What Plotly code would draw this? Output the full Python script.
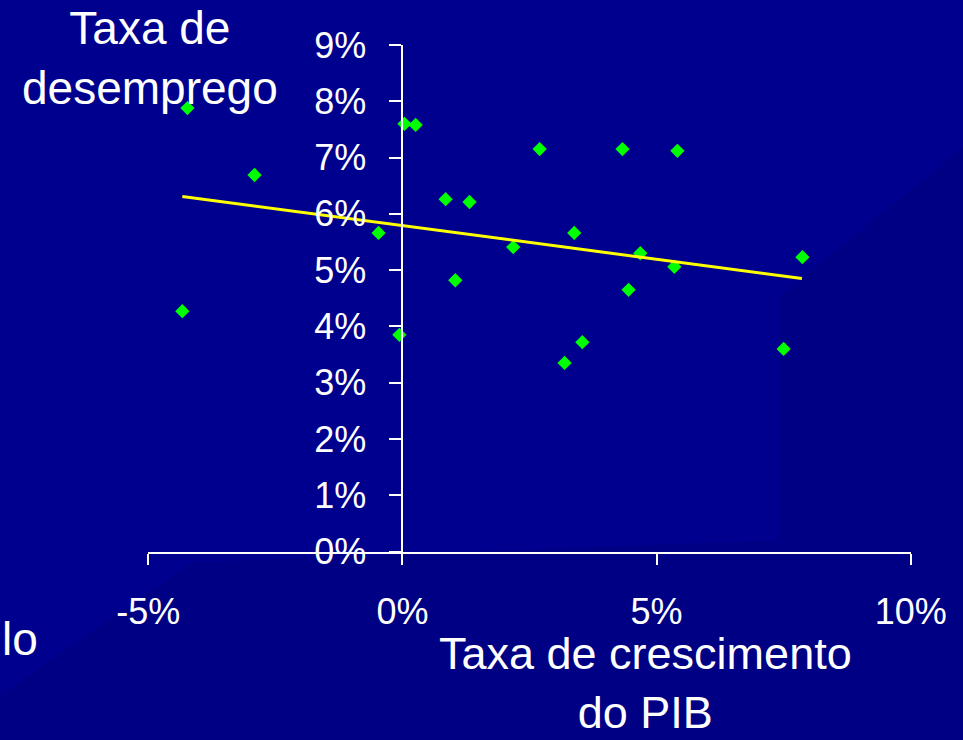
import plotly.graph_objects as go

# ---- data (percent) ----
gdp_growth = [-4.23, -2.91, -4.33, -0.47, -0.06, 0.04, 0.26, 0.85, 1.32, 1.04, 2.18,
              2.70, 3.38, 3.19, 3.54, 4.33, 4.45, 4.68, 5.41, 5.35, 7.50, 7.87]
unemployment = [7.88, 6.69, 4.27, 5.66, 3.85, 7.60, 7.58, 6.26, 6.21, 4.82, 5.41,
                7.15, 5.66, 3.35, 3.72, 7.15, 4.65, 5.30, 7.12, 5.06, 3.60, 5.23]
trend_x = [-4.33, 7.86]
trend_y = [6.31, 4.85]

x_tick_vals = [-5, 0, 5, 10]
x_tick_text = ["-5%", "0%", "5%", "10%"]
y_tick_vals = [0, 1, 2, 3, 4, 5, 6, 7, 8, 9]
y_tick_text = ["0%", "1%", "2%", "3%", "4%", "5%", "6%", "7%", "8%", "9%"]

# ---- layout geometry ----
W, H = 963, 740
x_range = [-5, 10]
y_range = [0, 9]
x_dom = [148.3 / W, 910.7 / W]
y_dom = [(H - 551.5) / H, (H - 45) / H]
y_axis_pos = x_dom[0] + (0 - x_range[0]) / (x_range[1] - x_range[0]) * (x_dom[1] - x_dom[0])

FONT = "Arial, Liberation Sans, sans-serif"

fig = go.Figure()
fig.add_trace(go.Scatter(
    x=gdp_growth, y=unemployment, mode="markers",
    marker=dict(symbol="diamond", size=11, color="#00FF00", line=dict(width=0)),
    showlegend=False, cliponaxis=False,
))
fig.add_trace(go.Scatter(
    x=trend_x, y=trend_y, mode="lines",
    line=dict(color="#FFFF00", width=3),
    showlegend=False,
))

axis_common = dict(
    showline=True, linecolor="white", linewidth=2,
    ticks="outside", tickcolor="white", tickwidth=2,
    showgrid=False, zeroline=False, automargin=False,
    tickfont=dict(family=FONT, size=36, color="white"),
)

fig.update_layout(
    width=W, height=H, autosize=False,
    margin=dict(l=0, r=0, t=0, b=0, pad=0),
    paper_bgcolor="#000084", plot_bgcolor="rgba(0,0,0,0)",
    xaxis=dict(range=x_range, domain=x_dom, anchor="y",
               tickvals=x_tick_vals, ticktext=x_tick_text,
               ticklen=11, ticklabelstandoff=16, **axis_common),
    yaxis=dict(range=y_range, domain=y_dom, anchor="free", position=y_axis_pos,
               side="left", tickvals=y_tick_vals, ticktext=y_tick_text,
               ticklen=12, ticklabelstandoff=16, **axis_common),
    font=dict(family=FONT, color="white"),
)

# faint lighter background region (textured part of the slide background)
fig.add_shape(type="path", xref="paper", yref="paper", layer="below", line=dict(width=0),
              fillcolor="#00008E",
              path="M 0 1 L 1 1 L 1 0.8 L 0.81 0.6 L 0.81 0.27 L 0.2 0.24 L 0 0.06 Z")

annos = [
    dict(text="Taxa de<br>desemprego", x=150 / W, y=1.0, xanchor="center", yanchor="top",
         font=dict(family=FONT, size=46, color="white")),
    dict(text="Taxa de crescimento<br>do PIB", x=645 / W, y=0.0, xanchor="center", yanchor="bottom",
         font=dict(family=FONT, size=45, color="white")),
    dict(text="lo", x=0.0, y=(H - 639) / H, xanchor="left", yanchor="middle",
         font=dict(family=FONT, size=46, color="white")),
]
for a in annos:
    a.update(xref="paper", yref="paper", showarrow=False)
fig.update_layout(annotations=annos)

fig.write_html("out.html", config={"displayModeBar": False},
               post_script="document.body.style.margin='0';document.body.style.overflow='hidden';")
